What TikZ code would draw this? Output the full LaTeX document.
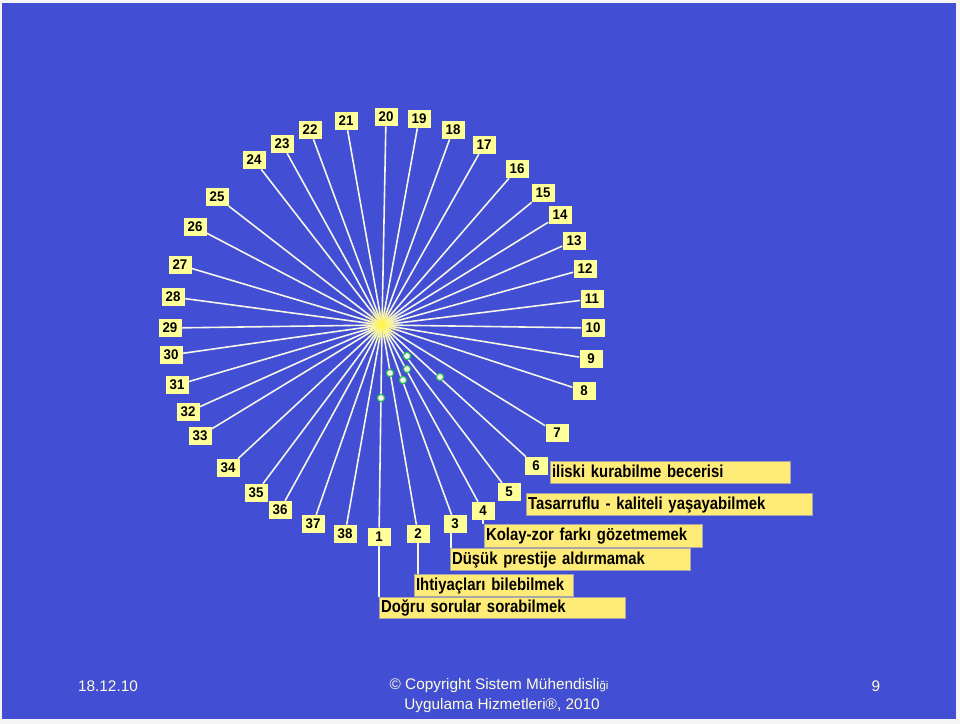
\documentclass[tikz,border=0pt]{standalone}
\usepackage{fontspec}
\setmainfont{Liberation Sans}
\newfontfamily\labfont[FakeStretch=0.86]{Liberation Sans}
\newfontfamily\numfont[FakeStretch=0.95]{Liberation Sans}
\definecolor{bg}{RGB}{66,78,212}
\definecolor{numy}{RGB}{255,255,153}
\definecolor{laby}{RGB}{255,236,120}
\definecolor{raycol}{RGB}{245,245,232}
\definecolor{footcol}{RGB}{255,255,215}
\definecolor{dotg}{RGB}{40,185,90}
\begin{document}
\begin{tikzpicture}[x=0.75pt,y=-0.75pt,
  numbox/.style={fill=numy, minimum width=17.25pt, minimum height=13.5pt, inner sep=0pt,
    font=\numfont\bfseries\fontsize{10.5}{11}\selectfont, text=black},
  labbox/.style={fill=laby, draw=gray!70, line width=0.6pt, anchor=north west,
    inner xsep=1.2pt, inner ysep=0pt, minimum height=16.5pt, text height=9.6pt, text depth=2.6pt,
    text=black, font=\labfont\bfseries\fontsize{13}{15}\selectfont, align=left},
  raystyle/.style={draw=raycol, line width=1.2pt},
  dotstyle/.style={circle, draw=dotg, fill=raycol, line width=0.9pt, minimum size=5.5pt, inner sep=0pt},
  footstyle/.style={text=footcol, font=\fontsize{11.5}{13}\selectfont, inner sep=0pt}]
\useasboundingbox (0,0) rectangle (960,724);
\fill[white!92!gray] (0,0) rectangle (960,724);
\fill[bg] (2,3) rectangle (956,719);
\coordinate (h) at (382,325);
% number boxes
\foreach \n/\x/\y in {1/379/537, 2/418/534, 3/455/524, 4/483/511, 5/509/492, 6/536/466,
  7/557/433, 8/584/391, 9/591/359, 10/593/328, 11/592/299, 12/585/269, 13/574/241,
  14/560/215, 15/543/193, 16/517/169, 17/484/145, 18/453/130, 19/419/119, 20/386/117,
  21/346/121, 22/310/130, 23/282/144, 24/254/160, 25/217/197, 26/195/227, 27/180/265,
  28/173/297, 29/170/328, 30/171/355, 31/177/385, 32/188/412, 33/200/436, 34/228/468,
  35/256/493, 36/280/510, 37/313/524, 38/345/534}
  {\node[numbox] (b\n) at (\x,\y) {\n};}
% rays
\foreach \n in {1,...,38} {\draw[raystyle] (h) -- (b\n);}
% hub glow
\foreach \r/\o in {18/0.10, 14/0.14, 10/0.2, 7/0.3, 4/0.5}
  {\fill[yellow!85!white, opacity=\o] (h) circle[radius=\r];}
% dots
\foreach \i/\x/\y in {1/407/356, 2/390/373, 3/407/369, 4/403/380, 5/440/377, 6/381/398}
  {\node[dotstyle] (d\i) at (\x,\y) {};}
% labels
\node[labbox, text width=177.6pt] (l6) at (550,461) {iliski kurabilme becerisi};
\node[labbox, text width=212.1pt] (l5) at (526,493) {Tasarruflu - kaliteli yaşayabilmek};
\node[labbox, text width=161.1pt, minimum height=17.25pt] (l4) at (484,524) {Kolay-zor farkı gözetmemek};
\node[labbox, text width=177.6pt] (l3) at (450,548) {Düşük prestije aldırmamak};
\node[labbox, text width=116.85pt] (l2) at (414,574) {Ihtiyaçları bilebilmek};
\node[labbox, text width=182.1pt, minimum height=15.75pt] (l1) at (379,597) {Doğru sorular sorabilmek};
% leaders
\draw[raystyle] (b1.south) -- (b1.south |- l1.north);
\draw[raystyle] (b2.south) -- (b2.south |- l2.north);
\draw[raystyle] ([xshift=-3pt]b3.south) -- ([xshift=-3pt]b3.south |- l3.north);
\draw[raystyle] (b4.south) -- (b4.south |- l4.north);
% footer
\node[footstyle] (date) at (108,686) {18.12.10};
\node[footstyle] (copy1) at (499,686) {© Copyright Sistem Mühendisli{\fontsize{8.5}{9}\selectfont ği}};
\node[footstyle] (copy2) at (502,706) {Uygulama Hizmetleri®, 2010};
\node[footstyle] (page) at (876,686) {9};
\end{tikzpicture}
\end{document}
